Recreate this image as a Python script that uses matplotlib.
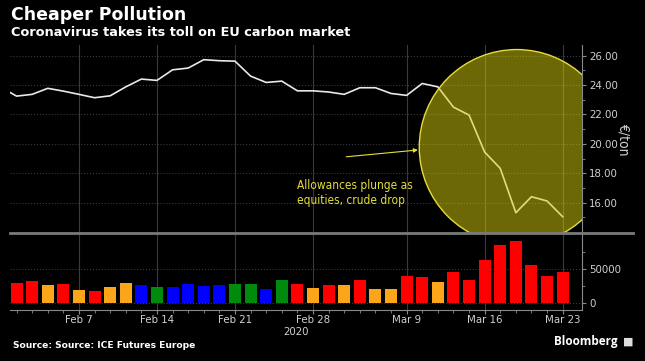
import numpy as np
import pandas as pd
import matplotlib.pyplot as plt
from matplotlib import font_manager
from matplotlib.patches import Ellipse
from matplotlib.lines import Line2D

# trading days Feb 3 - Mar 23 2020
dates = pd.bdate_range("2020-02-03", "2020-03-23")

price = [23.25, 23.37, 23.78, 23.59, 23.37, 23.14, 23.27, 23.88, 24.41, 24.32,
         25.04, 25.16, 25.73, 25.66, 25.63, 24.61, 24.18, 24.27, 23.61, 23.61,
         23.53, 23.37, 23.82, 23.82, 23.43, 23.30, 24.11, 23.88, 22.50, 21.96,
         19.44, 18.33, 15.31, 16.40, 16.11, 15.04]
price_prev = 23.85  # Jan 31, partly visible at the left edge

volume = [29000, 31600, 25700, 27700, 19400, 18000, 22800, 28700, 26700, 22800,
          22800, 27700, 24800, 26700, 27200, 27200, 20900, 33000, 27700, 21400,
          25700, 26200, 33000, 20900, 20900, 39800, 37900, 31100, 45200, 34000,
          62700, 84500, 90400, 54900, 39400, 45200]

bar_cols = ['r', 'r', 'o', 'r', 'o', 'r', 'o', 'o', 'b', 'g',
            'b', 'b', 'b', 'b', 'g', 'g', 'b', 'g', 'r', 'o',
            'r', 'o', 'r', 'o', 'o', 'r', 'r', 'o', 'r', 'r',
            'r', 'r', 'r', 'r', 'r', 'r']
palette = {'r': '#ff0000', 'o': '#fba51a', 'b': '#0000ff', 'g': '#008a0e'}

tick_days = ["2020-02-07", "2020-02-14", "2020-02-21", "2020-02-28",
             "2020-03-09", "2020-03-16", "2020-03-23"]
tick_labels = ["Feb 7", "Feb 14", "Feb 21", "Feb 28", "Mar 9", "Mar 16", "Mar 23"]

x = np.arange(len(dates))
tick_pos = [list(dates).index(pd.Timestamp(d)) for d in tick_days]

bg = 'black'
grid_c = '#3a3a3a'
axis_c = '#8a8a8a'
txt_c = '#d0d0d0'
yel = '#e6dc3c'


def narrow(size):
    return font_manager.FontProperties(family='DejaVu Sans', stretch='condensed', size=size)


fig = plt.figure(figsize=(6.45, 3.61), dpi=100, facecolor=bg)
ax1 = fig.add_axes([10/645, 1 - 233/361, 572/645, 188/361])
ax2 = fig.add_axes([10/645, 1 - 310/361, 572/645, 77/361], sharex=ax1)

for ax in (ax1, ax2):
    ax.set_facecolor(bg)
    for s in ('top', 'left'):
        ax.spines[s].set_visible(False)
    ax.spines['right'].set_color(axis_c)
    ax.spines['bottom'].set_color(axis_c)
    ax.yaxis.tick_right()
    ax.set_xticks(tick_pos)
    ax.set_xticks(x, minor=True)
    ax.grid(True, axis='x', color=grid_c, linewidth=0.8)
    ax.grid(True, axis='y', color=grid_c, linewidth=0.8, linestyle=':')
    ax.tick_params(colors=axis_c, labelcolor=txt_c, length=3, width=0.8, pad=2)
    ax.tick_params(which='minor', colors=axis_c, length=2, width=0.6)
    ax.set_axisbelow(True)

# price line
ax1.plot(np.concatenate([[-1], x]), [price_prev] + price, color='#e8e8e8', linewidth=1.2, zorder=3)
ax1.set_xlim(-0.42, 36.24)
ax1.set_ylim(13.93, 26.73)
ax1.set_yticks([16, 18, 20, 22, 24, 26])
ax1.set_yticks(np.arange(15, 27, 1), minor=True)
ax1.set_yticklabels([f"{v:.2f}" for v in [16, 18, 20, 22, 24, 26]], fontproperties=narrow(8.2))
ax1.tick_params(axis='x', which='both', bottom=False, labelbottom=False)
ax1.spines['bottom'].set_visible(False)
ax1.set_ylabel('€/ton', color=txt_c, rotation=270, labelpad=9, fontproperties=narrow(10))
ax1.yaxis.set_label_position('right')

# highlight circle and annotation
circ = Ellipse((32.06, 19.77), 12.5, 13.3, facecolor=(0.86, 0.82, 0.05, 0.5),
               edgecolor=yel, linewidth=1.0, zorder=4)
ax1.add_patch(circ)
ax1.annotate('', xy=(25.9, 19.6), xytext=(20.95, 19.1),
             arrowprops=dict(arrowstyle='-|>', color=yel, lw=0.8, mutation_scale=6), zorder=5)
ax1.text(18.0, 17.6, 'Allowances plunge as\nequities, crude drop', color=yel,
         va='top', ha='left', linespacing=1.2, zorder=5, fontproperties=narrow(8.6))

# volume bars
ax2.bar(x, volume, width=0.77, color=[palette[c] for c in bar_cols], zorder=3)
ax2.set_ylim(-10000, 102000)
ax2.set_yticks([0, 50000])
ax2.set_yticks([25000, 75000], minor=True)
ax2.set_yticklabels(['0', '50000'], fontproperties=narrow(8.2))
ax2.set_xticklabels(tick_labels, fontproperties=narrow(8.2))
ax2.tick_params(axis='x', which='major', length=3, pad=0.5)

# separator between panels
fig.add_artist(Line2D([10/645, 633/645], [1 - 233/361] * 2, color='#7a7a7a', linewidth=2))

fig.text(296/645, 1 - 332/361, '2020', color=txt_c, ha='center', va='center', fontproperties=narrow(8.2))

fig.text(11/645, 1 - 15/361, 'Cheaper Pollution', color='white', fontsize=12.5,
         fontweight='bold', family='DejaVu Sans', va='center', ha='left')
fig.text(11/645, 1 - 33/361, 'Coronavirus takes its toll on EU carbon market', color='white',
         fontsize=9.3, fontweight='bold', family='DejaVu Sans', va='center', ha='left')
fig.text(13/645, 1 - 345/361, 'Source: Source: ICE Futures Europe', color='white',
         fontsize=6.6, fontweight='bold', family='DejaVu Sans', va='center', ha='left')
fig.text(618/645, 1 - 342/361, 'Bloomberg', color='white', fontsize=8.5,
         fontweight='bold', family='Open Sans', va='center', ha='right')
fig.text(628/645, 1 - 342/361, '■', color='#dddddd', fontsize=8, va='center', ha='center')

fig.savefig('out.png', dpi=100, facecolor=bg)
